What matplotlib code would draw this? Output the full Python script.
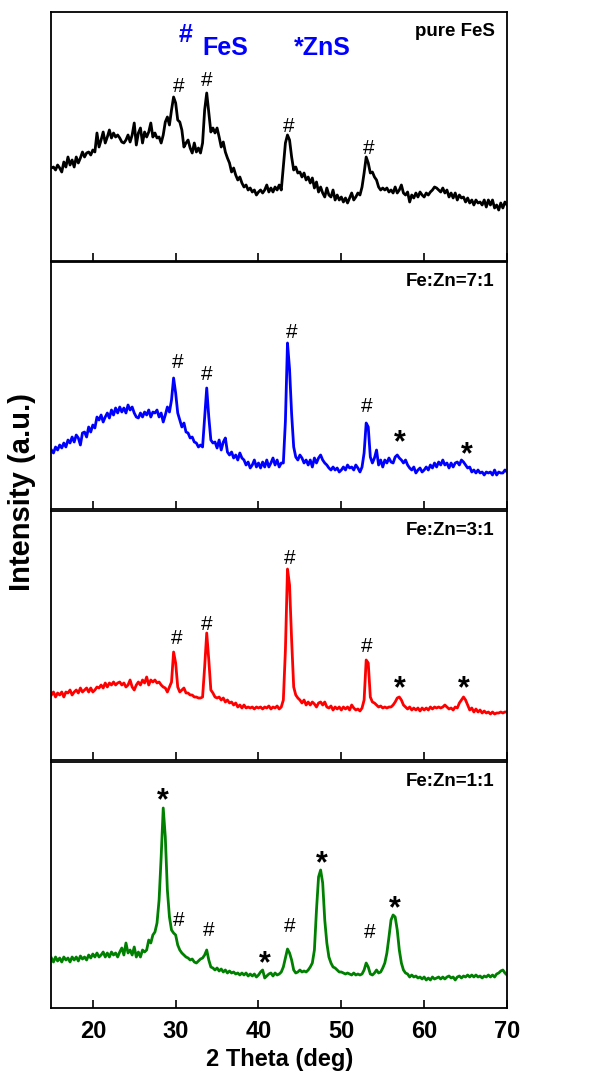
import numpy as np
import matplotlib
matplotlib.use("Agg")
import matplotlib.pyplot as plt

plt.rcParams["font.family"] = ["Liberation Sans", "DejaVu Sans"]

# 2-theta sampling grid (deg), 0.25 deg step
two_theta = np.linspace(15, 70, 221)

int_pure = [
    93, 94, 91, 96, 93, 89, 99, 94,
    104, 96, 101, 94, 104, 98, 103, 109,
    104, 108, 109, 106, 111, 109, 128, 114,
    121, 129, 118, 124, 131, 123, 128, 124,
    126, 123, 119, 118, 121, 126, 119, 126,
    138, 116, 128, 133, 118, 129, 124, 129,
    138, 124, 128, 123, 124, 118, 126, 139,
    144, 136, 151, 164, 158, 141, 139, 131,
    114, 118, 121, 113, 108, 118, 109, 113,
    108, 118, 151, 168, 148, 129, 133, 128,
    133, 124, 114, 119, 109, 103, 98, 89,
    93, 86, 81, 84, 78, 74, 76, 71,
    73, 69, 71, 66, 69, 71, 68, 71,
    76, 69, 73, 69, 74, 71, 76, 71,
    94, 118, 126, 121, 104, 91, 94, 88,
    89, 84, 88, 81, 84, 78, 83, 73,
    79, 69, 74, 68, 64, 73, 66, 64,
    71, 61, 66, 61, 64, 59, 63, 58,
    63, 68, 61, 64, 68, 66, 74, 88,
    104, 98, 88, 89, 84, 81, 74, 71,
    73, 71, 73, 69, 71, 68, 74, 68,
    71, 76, 68, 66, 69, 59, 66, 63,
    68, 64, 69, 66, 64, 68, 66, 69,
    71, 74, 73, 71, 69, 73, 68, 71,
    64, 68, 63, 68, 61, 66, 63, 64,
    59, 63, 58, 61, 56, 61, 58, 59,
    56, 61, 54, 61, 56, 61, 53, 56,
    51, 58, 53, 59, 56,
]

int_7to1 = [
    59, 56, 62, 59, 64, 61, 66, 62,
    69, 66, 72, 67, 74, 71, 64, 76,
    77, 72, 82, 77, 84, 81, 92, 89,
    94, 87, 92, 96, 91, 99, 94, 101,
    96, 102, 97, 101, 96, 104, 99, 102,
    96, 92, 91, 96, 92, 97, 94, 99,
    92, 97, 96, 99, 92, 96, 87, 94,
    102, 97, 109, 131, 116, 96, 89, 82,
    86, 77, 76, 71, 72, 67, 66, 62,
    64, 62, 92, 121, 92, 69, 66, 67,
    61, 69, 59, 67, 71, 57, 54, 57,
    51, 54, 49, 56, 51, 49, 44, 47,
    41, 44, 49, 42, 46, 41, 47, 42,
    49, 42, 46, 51, 44, 49, 42, 46,
    46, 88, 166, 140, 95, 62, 52, 49,
    54, 51, 46, 49, 44, 49, 42, 51,
    46, 51, 54, 49, 46, 44, 41, 39,
    42, 39, 41, 37, 39, 42, 39, 44,
    41, 42, 39, 44, 41, 37, 42, 56,
    86, 82, 52, 46, 51, 59, 44, 49,
    42, 49, 46, 51, 47, 46, 52, 54,
    51, 49, 46, 49, 44, 41, 39, 42,
    36, 39, 41, 37, 39, 42, 39, 44,
    41, 46, 42, 47, 44, 49, 44, 46,
    41, 46, 42, 46, 47, 44, 49, 47,
    44, 41, 42, 37, 39, 36, 39, 36,
    37, 34, 37, 36, 37, 34, 39, 34,
    37, 36, 36, 39, 37,
]

int_3to1 = [
    65, 68, 63, 67, 65, 68, 63, 68,
    67, 70, 65, 68, 70, 67, 72, 68,
    70, 72, 68, 72, 68, 70, 73, 72,
    75, 72, 77, 73, 77, 75, 78, 75,
    77, 78, 75, 77, 73, 75, 80, 73,
    70, 75, 78, 75, 80, 77, 83, 75,
    80, 78, 80, 77, 78, 75, 73, 72,
    68, 73, 78, 108, 97, 73, 68, 70,
    72, 67, 67, 65, 65, 63, 63, 62,
    62, 63, 93, 127, 100, 70, 67, 63,
    62, 63, 60, 62, 58, 60, 57, 58,
    55, 57, 53, 55, 52, 55, 52, 53,
    52, 53, 51, 53, 52, 53, 51, 53,
    52, 54, 51, 53, 52, 54, 51, 53,
    60, 110, 191, 175, 120, 73, 65, 62,
    60, 57, 60, 55, 58, 55, 58, 56,
    53, 57, 58, 55, 58, 53, 52, 54,
    50, 53, 51, 53, 50, 53, 51, 53,
    50, 55, 52, 50, 51, 49, 52, 60,
    100, 97, 63, 58, 57, 55, 53, 54,
    52, 53, 52, 53, 53, 55, 58, 62,
    63, 60, 55, 53, 51, 53, 50, 52,
    50, 52, 49, 52, 50, 52, 50, 53,
    51, 53, 52, 53, 52, 53, 55, 53,
    51, 52, 50, 53, 52, 57, 60, 63,
    60, 55, 50, 52, 48, 51, 48, 50,
    47, 49, 47, 48, 46, 48, 46, 47,
    47, 48, 47, 48, 48,
]

int_1to1 = [
    50, 46, 51, 47, 50, 46, 51, 48,
    50, 46, 51, 48, 51, 47, 52, 49,
    51, 48, 53, 50, 54, 51, 55, 51,
    53, 56, 51, 55, 51, 56, 53, 55,
    51, 56, 60, 53, 65, 55, 58, 53,
    61, 51, 56, 51, 58, 56, 58, 68,
    65, 73, 76, 85, 108, 151, 200, 171,
    118, 91, 78, 75, 73, 63, 58, 55,
    53, 51, 50, 48, 49, 46, 45, 47,
    49, 50, 53, 58, 48, 41, 40, 38,
    40, 37, 39, 36, 38, 35, 37, 35,
    36, 34, 35, 33, 35, 33, 35, 32,
    34, 32, 34, 31, 33, 36, 38, 30,
    32, 34, 35, 32, 35, 33, 34, 36,
    41, 50, 59, 55, 48, 38, 35, 36,
    38, 36, 37, 36, 38, 41, 45, 58,
    98, 131, 138, 125, 88, 65, 51, 45,
    41, 40, 38, 36, 36, 35, 34, 35,
    34, 33, 35, 33, 34, 33, 34, 38,
    45, 41, 34, 33, 35, 38, 35, 36,
    40, 45, 55, 71, 88, 93, 91, 78,
    58, 45, 38, 35, 34, 31, 33, 31,
    32, 30, 31, 29, 31, 28, 30, 28,
    31, 29, 30, 31, 29, 31, 29, 31,
    32, 30, 31, 28, 31, 32, 30, 32,
    31, 33, 31, 33, 31, 33, 31, 32,
    30, 32, 31, 33, 31, 33, 31, 34,
    35, 37, 38, 35, 33,
]

# peak markers: (2theta, intensity, symbol)
marks_pure = [(30.4, 174, "#"), (33.8, 180, "#"), (43.7, 135, "#"), (53.3, 112, "#")]
marks_7to1 = [(30.2, 146, "#"), (33.8, 134, "#"), (43.95, 177, "#"), (53.06, 102, "#"),
              (57.1, 72, "*"), (65.2, 60, "*")]
marks_3to1 = [(30.16, 121, "#"), (33.8, 135, "#"), (43.8, 201, "#"), (53.06, 113, "#"),
              (57.1, 77, "*"), (64.8, 77, "*")]
marks_1to1 = [(28.5, 213, "*"), (30.4, 88, "#"), (34.0, 78, "#"), (40.8, 50, "*"),
              (43.8, 82, "#"), (47.6, 150, "*"), (53.4, 76, "#"), (56.45, 105, "*")]

samples = ["pure FeS", "Fe:Zn=7:1", "Fe:Zn=3:1", "Fe:Zn=1:1"]
series = [int_pure, int_7to1, int_3to1, int_1to1]
marks = [marks_pure, marks_7to1, marks_3to1, marks_1to1]
colors = ["black", "#0000ff", "#ff0000", "#008000"]

W, H = 590, 1076
fig = plt.figure(figsize=(W / 100, H / 100), dpi=100)

# panel extents in pixels (top, bottom)
panel_px = [(12, 261), (262, 509), (511, 760), (762, 1008)]
left_px, right_px = 51.4, 507

axes = []
for i, (top, bot) in enumerate(panel_px):
    ax = fig.add_axes([left_px / W, 1 - bot / H, (right_px - left_px) / W, (bot - top) / H])
    ax.plot(two_theta, series[i], color=colors[i], lw=2.0)
    ax.set_xlim(15, 70)
    ax.set_ylim(0, bot - top)
    ax.set_yticks([])
    ax.set_xticks([20, 30, 40, 50, 60, 70])
    ax.tick_params(axis="x", direction="in", length=6, width=1.2, labelsize=17, pad=9)
    for s in ax.spines.values():
        s.set_linewidth(1.3)
    if i < 3:
        ax.tick_params(axis="x", labelbottom=False)
    else:
        for lab in ax.get_xticklabels():
            lab.set_fontweight("bold")
    ax.text(0.973, 0.92, samples[i], transform=ax.transAxes, ha="right", va="center",
            fontsize=13.5, fontweight="bold")
    for x, y, sym in marks[i]:
        if sym == "#":
            ax.text(x, y, sym, ha="center", va="center", fontsize=15)
        else:
            ax.text(x, y - 6, sym, ha="center", va="center", fontsize=22, fontweight="bold")
    axes.append(ax)

# phase legend in the top panel
axes[0].text(31.17, 226, "#", color="#0000ff", fontsize=18, fontweight="bold",
             ha="center", va="center")
axes[0].text(33.25, 213, "FeS", color="#0000ff", fontsize=18, fontweight="bold",
             ha="left", va="center")
axes[0].text(44.29, 213, "*ZnS", color="#0000ff", fontsize=18, fontweight="bold",
             ha="left", va="center")

axes[3].set_xlabel("2 Theta (deg)", fontsize=17, fontweight="bold", labelpad=3)
fig.text(0.038, 0.543, "Intensity (a.u.)", rotation=90, ha="center", va="center",
         fontsize=21, fontweight="bold")

fig.savefig("out.png", dpi=100)
